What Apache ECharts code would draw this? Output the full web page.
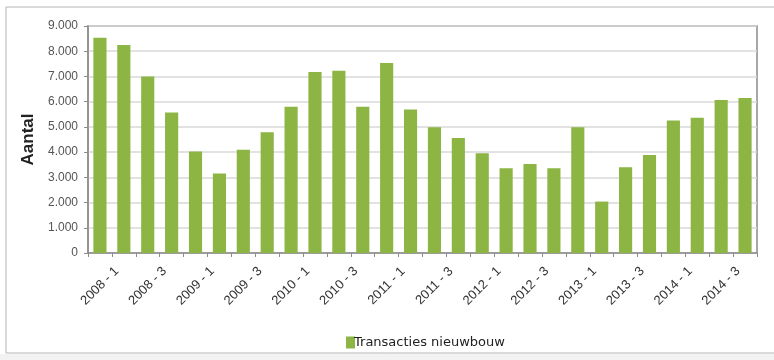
<!DOCTYPE html>
<html>
<head>
<meta charset="utf-8">
<script src="https://cdn.jsdelivr.net/npm/echarts@6/dist/echarts.min.js"></script>
<style>
  html, body { margin: 0; padding: 0; background: #ffffff; }
  #chart { width: 774px; height: 360px; }
</style>
</head>
<body>
<div id="chart"></div>
<script>
// Quarters 2008-1 .. 2014-4
const quarters = [
  '2008 - 1', '2008 - 2', '2008 - 3', '2008 - 4',
  '2009 - 1', '2009 - 2', '2009 - 3', '2009 - 4',
  '2010 - 1', '2010 - 2', '2010 - 3', '2010 - 4',
  '2011 - 1', '2011 - 2', '2011 - 3', '2011 - 4',
  '2012 - 1', '2012 - 2', '2012 - 3', '2012 - 4',
  '2013 - 1', '2013 - 2', '2013 - 3', '2013 - 4',
  '2014 - 1', '2014 - 2', '2014 - 3', '2014 - 4'
];

// Transactions of new-build homes per quarter
const transactiesNieuwbouw = [
  8530, 8250, 7000, 5570,
  4020, 3150, 4090, 4790,
  5800, 7180, 7230, 5800,
  7530, 5690, 4990, 4560,
  3950, 3360, 3530, 3360,
  4990, 2040, 3400, 3890,
  5250, 5360, 6070, 6150
];

const seriesName = 'Transacties nieuwbouw';
const yAxisName = 'Aantal';
const yMin = 0, yMax = 9000, yStep = 1000;

const fmtThousands = v => String(v).replace(/\B(?=(\d{3})+(?!\d))/g, '.');

const chart = echarts.init(document.getElementById('chart'), null, { renderer: 'canvas' });

chart.setOption({
  animation: false,
  backgroundColor: '#ffffff',
  graphic: [
    {
      type: 'rect',
      shape: { x: 6, y: 7, width: 780, height: 346 },
      style: { fill: 'none', stroke: '#b4b4b4', lineWidth: 1 },
      z: -1
    },
    {
      type: 'rect',
      shape: { x: 0, y: 354, width: 774, height: 6 },
      style: { fill: '#f2f2f2' },
      z: -1
    }
  ],
  grid: { left: 88, right: 17, top: 26, bottom: 107, containLabel: false,
          show: true, borderColor: '#8c8c8c', borderWidth: 1.5 },
  legend: {
    top: 331,
    left: 341,
    itemWidth: 9,
    itemHeight: 12,
    itemGap: 0,
    icon: 'rect',
    textStyle: { fontFamily: 'DejaVu Sans', fontSize: 13, color: '#222', padding: [0, 0, 0, -6] },
    data: [seriesName]
  },
  xAxis: {
    type: 'category',
    data: quarters,
    axisLine: { show: true, lineStyle: { color: '#8c8c8c', width: 1.5 } },
    axisTick: { show: true, alignWithLabel: false, interval: 0, length: 4, lineStyle: { color: '#8c8c8c' } },
    axisLabel: {
      interval: 1,
      rotate: 45,
      margin: 33,
      align: 'center',
      verticalAlign: 'middle',
      padding: [24, 0, 0, 0],
      fontFamily: 'Liberation Sans, Arial',
      fontSize: 13,
      color: '#333'
    }
  },
  yAxis: {
    type: 'value',
    min: yMin, max: yMax, interval: yStep,
    name: yAxisName,
    nameLocation: 'middle',
    nameGap: 51,
    nameRotate: 90,
    nameTextStyle: { fontFamily: 'Liberation Sans, Arial', fontSize: 17, fontWeight: 'bold', color: '#222' },
    axisLine: { show: true, lineStyle: { color: '#8c8c8c', width: 1.5 } },
    axisTick: { show: true, length: 4, lineStyle: { color: '#8c8c8c' } },
    splitLine: { show: true, lineStyle: { color: '#d9d9d9', width: 1.5 } },
    axisLabel: {
      margin: 10,
      fontFamily: 'Liberation Sans, Arial',
      fontSize: 12,
      color: '#555',
      formatter: fmtThousands
    }
  },
  series: [{
    name: seriesName,
    type: 'bar',
    data: transactiesNieuwbouw,
    barCategoryGap: '45%',
    itemStyle: { color: '#8cb543' }
  }]
});
</script>
</body>
</html>
